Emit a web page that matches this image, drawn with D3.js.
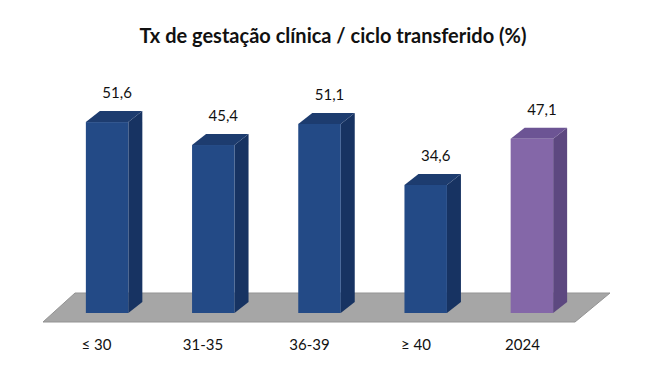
<!DOCTYPE html>
<html><head><meta charset="utf-8">
<script src="https://cdn.jsdelivr.net/npm/d3@7"></script>
<style>body{margin:0;background:#fff}svg{display:block}</style>
</head><body>
<script>
const categories = ["≤ 30", "31-35", "36-39", "≥ 40", "2024"];
const values = [51.6, 45.4, 51.1, 34.6, 47.1];
const valueLabels = ["51,6", "45,4", "51,1", "34,6", "47,1"];
const title = "Tx de gestação clínica / ciclo transferido (%)";

const W = 655, H = 378;
const svg = d3.select("body").append("svg").attr("width", W).attr("height", H);

const x = d3.scaleBand().domain(categories).range([54, 585]).paddingInner(0.6).paddingOuter(0.3);
const xl = d3.scalePoint().domain(categories).range([96, 522]);
const y = d3.scaleLinear().domain([0, 60]).range([313, 313 - 60 * 3.70]);
const dx = 14, dy = -11;

const colors = (i) => i === 4
  ? {front: "#8467a8", side: "#5d4880", top: "#6c5494"}
  : {front: "#234a86", side: "#173362", top: "#1d3c6f"};

// floor
svg.append("polygon")
  .attr("points", [[75,293],[610,293],[575,322],[43,322]].map(p => p.join(",")).join(" "))
  .attr("fill", "#a6a6a6").attr("stroke", "#939393").attr("stroke-width", 1);

const g = svg.append("g");
categories.forEach((c, i) => {
  const x0 = x(c), w = x.bandwidth(), yt = y(values[i]), yb = y(0);
  const col = colors(i);
  g.append("polygon").attr("points", [[x0+w,yt],[x0+w+dx,yt+dy],[x0+w+dx,yb+dy],[x0+w,yb]].map(p=>p.join(",")).join(" "))
    .attr("fill", col.side);
  g.append("polygon").attr("points", [[x0,yt],[x0+dx,yt+dy],[x0+w+dx,yt+dy],[x0+w,yt]].map(p=>p.join(",")).join(" "))
    .attr("fill", col.top);
  g.append("rect").attr("x", x0).attr("y", yt).attr("width", w).attr("height", yb - yt).attr("fill", col.front);
  g.append("text").attr("x", x0 + w/2 + dx/2 + 3).attr("y", yt + dy - 13)
    .attr("text-anchor", "middle").attr("font-family", "Lato, 'Open Sans', sans-serif")
    .attr("font-size", 15).attr("fill", "#111").text(valueLabels[i]);
});

const axis = d3.axisBottom(xl).tickSize(0).tickPadding(0);
const ax = svg.append("g").attr("transform", "translate(0,339)").call(axis);
ax.select(".domain").remove();
ax.selectAll("text").attr("font-family", "Lato, 'Open Sans', sans-serif").attr("font-size", 15).attr("fill", "#111");

svg.append("text").attr("x", 333).attr("y", 43).attr("text-anchor", "middle")
  .attr("font-family", "Lato, 'Open Sans', sans-serif").attr("font-weight", "bold")
  .attr("font-size", 20).attr("fill", "#111").text(title);
</script>
</body></html>
